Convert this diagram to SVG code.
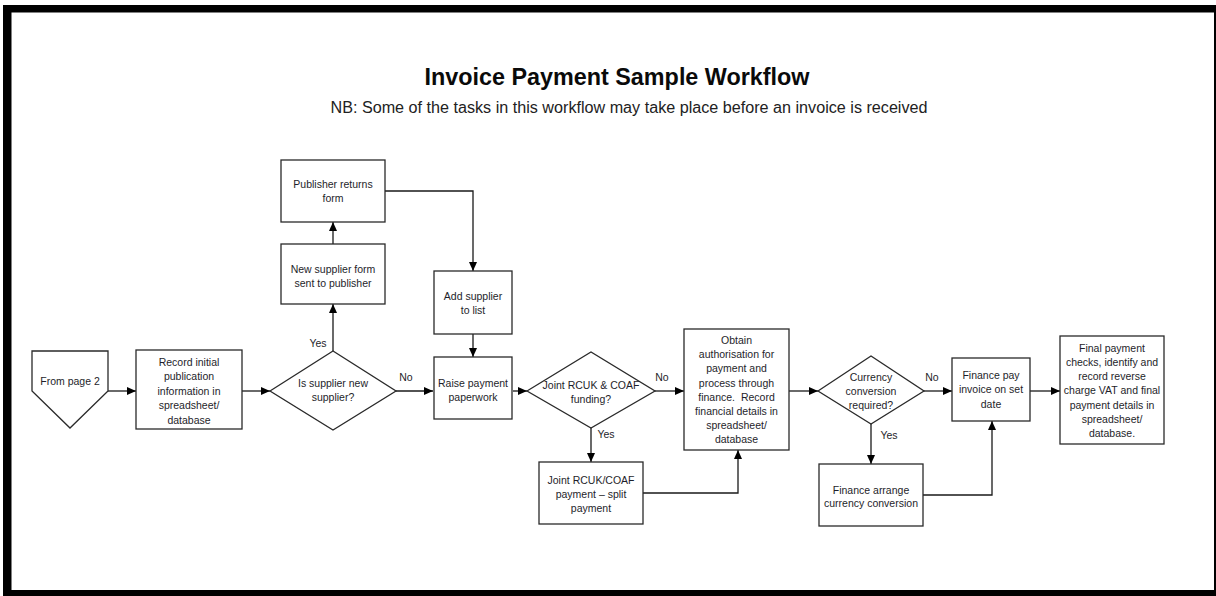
<svg xmlns="http://www.w3.org/2000/svg" width="1216" height="596" viewBox="0 0 1216 596">
<style>
.box{fill:#fff;stroke:#2a2a2a;stroke-width:1.3}
.t{font-family:"Liberation Sans",Arial,sans-serif;font-size:10.5px;fill:#1e1e2a;text-anchor:middle}
.lbl{font-family:"Liberation Sans",Arial,sans-serif;font-size:10.5px;fill:#1e1e2a;text-anchor:middle}
.c{fill:none;stroke:#1a1a1a;stroke-width:1.3}
.a{marker-end:url(#ah)}
</style>
<defs>
<marker id="ah" markerWidth="10" markerHeight="10" refX="9" refY="5" orient="auto" markerUnits="userSpaceOnUse">
<path d="M0,1 L9,5 L0,9 Z" fill="#000"/>
</marker>
</defs>
<rect x="0" y="0" width="1216" height="596" fill="#fff"/>
<rect x="3" y="5" width="1213" height="591" fill="#000"/>
<rect x="11.5" y="12.5" width="1202.5" height="577.5" fill="#fff"/>

<g id="title">
<text x="617" y="85" font-family="Liberation Sans,Arial,sans-serif" font-weight="bold" font-size="23" fill="#0a0a0a" text-anchor="middle" textLength="385" lengthAdjust="spacingAndGlyphs">Invoice Payment Sample Workflow</text>
<text x="629" y="113" font-family="Liberation Sans,Arial,sans-serif" font-size="16" fill="#222" text-anchor="middle" textLength="597" lengthAdjust="spacingAndGlyphs">NB: Some of the tasks in this workflow may take place before an invoice is received</text>
</g>

<g id="connectors">
<line class="c a" x1="108" y1="391" x2="136" y2="391"/>
<line class="c a" x1="242" y1="391" x2="270" y2="391"/>
<line class="c a" x1="333" y1="351" x2="333" y2="304"/>
<line class="c a" x1="333" y1="244" x2="333" y2="222"/>
<polyline class="c a" points="385,191 473,191 473,271"/>
<line class="c a" x1="473" y1="334" x2="473" y2="357"/>
<line class="c a" x1="396" y1="391" x2="433" y2="391"/>
<line class="c a" x1="513" y1="391" x2="527" y2="391"/>
<line class="c a" x1="655" y1="391" x2="684" y2="391"/>
<line class="c a" x1="591" y1="428" x2="591" y2="462"/>
<polyline class="c a" points="643,493 738,493 738,450"/>
<line class="c a" x1="789" y1="391" x2="818" y2="391"/>
<line class="c a" x1="924" y1="391" x2="952" y2="391"/>
<line class="c a" x1="871" y1="424" x2="871" y2="464"/>
<polyline class="c a" points="923,495 992,495 992,421"/>
<line class="c a" x1="1030" y1="391" x2="1060" y2="391"/>
<text class="lbl" x="318" y="347">Yes</text>
<text class="lbl" x="406" y="381">No</text>
<text class="lbl" x="662" y="381">No</text>
<text class="lbl" x="606" y="438">Yes</text>
<text class="lbl" x="932" y="381">No</text>
<text class="lbl" x="889" y="439">Yes</text>
</g>

<g id="from-page-2">
<path class="box" d="M32,351 L108,351 L108,391 L70,428 L32,391 Z"/>
<text class="t" x="70" y="385">From page 2</text>
</g>

<g id="record-initial">
<rect class="box" x="136" y="350" width="106" height="79"/>
<text class="t" x="189" y="365.8">Record initial</text>
<text class="t" x="189" y="380.2">publication</text>
<text class="t" x="189" y="394.8">information in</text>
<text class="t" x="189" y="409.2">spreadsheet/</text>
<text class="t" x="189" y="423.5">database</text>
</g>

<g id="is-supplier-new">
<path class="box" d="M270,391 L333,351 L396,391 L333,430 Z"/>
<text class="t" x="333" y="386.5">Is supplier new</text>
<text class="t" x="333" y="401">supplier?</text>
</g>

<g id="new-supplier-form">
<rect class="box" x="281" y="244" width="104" height="60"/>
<text class="t" x="333" y="272.5">New supplier form</text>
<text class="t" x="333" y="286.5">sent to publisher</text>
</g>

<g id="publisher-returns">
<rect class="box" x="281" y="160" width="104" height="62"/>
<text class="t" x="333" y="187.5">Publisher returns</text>
<text class="t" x="333" y="201.5">form</text>
</g>

<g id="add-supplier">
<rect class="box" x="434" y="271" width="78" height="63"/>
<text class="t" x="473" y="299.5">Add supplier</text>
<text class="t" x="473" y="313.5">to list</text>
</g>

<g id="raise-payment">
<rect class="box" x="434" y="357" width="78" height="62"/>
<text class="t" x="473" y="387">Raise payment</text>
<text class="t" x="473" y="401">paperwork</text>
</g>

<g id="joint-funding">
<path class="box" d="M527,391 L591,352 L655,391 L591,428 Z"/>
<text class="t" x="591" y="388.5">Joint RCUK &amp; COAF</text>
<text class="t" x="591" y="403">funding?</text>
</g>

<g id="split-payment">
<rect class="box" x="539" y="462" width="104" height="62"/>
<text class="t" x="591" y="483.5">Joint RCUK/COAF</text>
<text class="t" x="591" y="497.5">payment – split</text>
<text class="t" x="591" y="512">payment</text>
</g>

<g id="obtain-authorisation">
<rect class="box" x="684" y="329" width="105" height="121"/>
<text class="t" x="736.5" y="344.2">Obtain</text>
<text class="t" x="736.5" y="358.3">authorisation for</text>
<text class="t" x="736.5" y="372.4">payment and</text>
<text class="t" x="736.5" y="386.5">process through</text>
<text class="t" x="736.5" y="400.6">finance.&#160; Record</text>
<text class="t" x="736.5" y="414.7">financial details in</text>
<text class="t" x="736.5" y="428.8">spreadsheet/</text>
<text class="t" x="736.5" y="442.9">database</text>
</g>

<g id="currency-conversion">
<path class="box" d="M818,391 L871,356 L924,391 L871,424 Z"/>
<text class="t" x="871" y="380.5">Currency</text>
<text class="t" x="871" y="394.5">conversion</text>
<text class="t" x="871" y="408.5">required?</text>
</g>

<g id="finance-arrange">
<rect class="box" x="819" y="464" width="104" height="62"/>
<text class="t" x="871" y="493.5">Finance arrange</text>
<text class="t" x="871" y="507">currency conversion</text>
</g>

<g id="finance-pay">
<rect class="box" x="952" y="358" width="78" height="63"/>
<text class="t" x="991" y="378.5">Finance pay</text>
<text class="t" x="991" y="393">invoice on set</text>
<text class="t" x="991" y="407.5">date</text>
</g>

<g id="final-payment">
<rect class="box" x="1060" y="336" width="104" height="108"/>
<text class="t" x="1112" y="351.8">Final payment</text>
<text class="t" x="1112" y="366">checks, identify and</text>
<text class="t" x="1112" y="380.2">record reverse</text>
<text class="t" x="1112" y="394.4">charge VAT and final</text>
<text class="t" x="1112" y="408.6">payment details in</text>
<text class="t" x="1112" y="422.8">spreadsheet/</text>
<text class="t" x="1112" y="437">database.</text>
</g>
</svg>
